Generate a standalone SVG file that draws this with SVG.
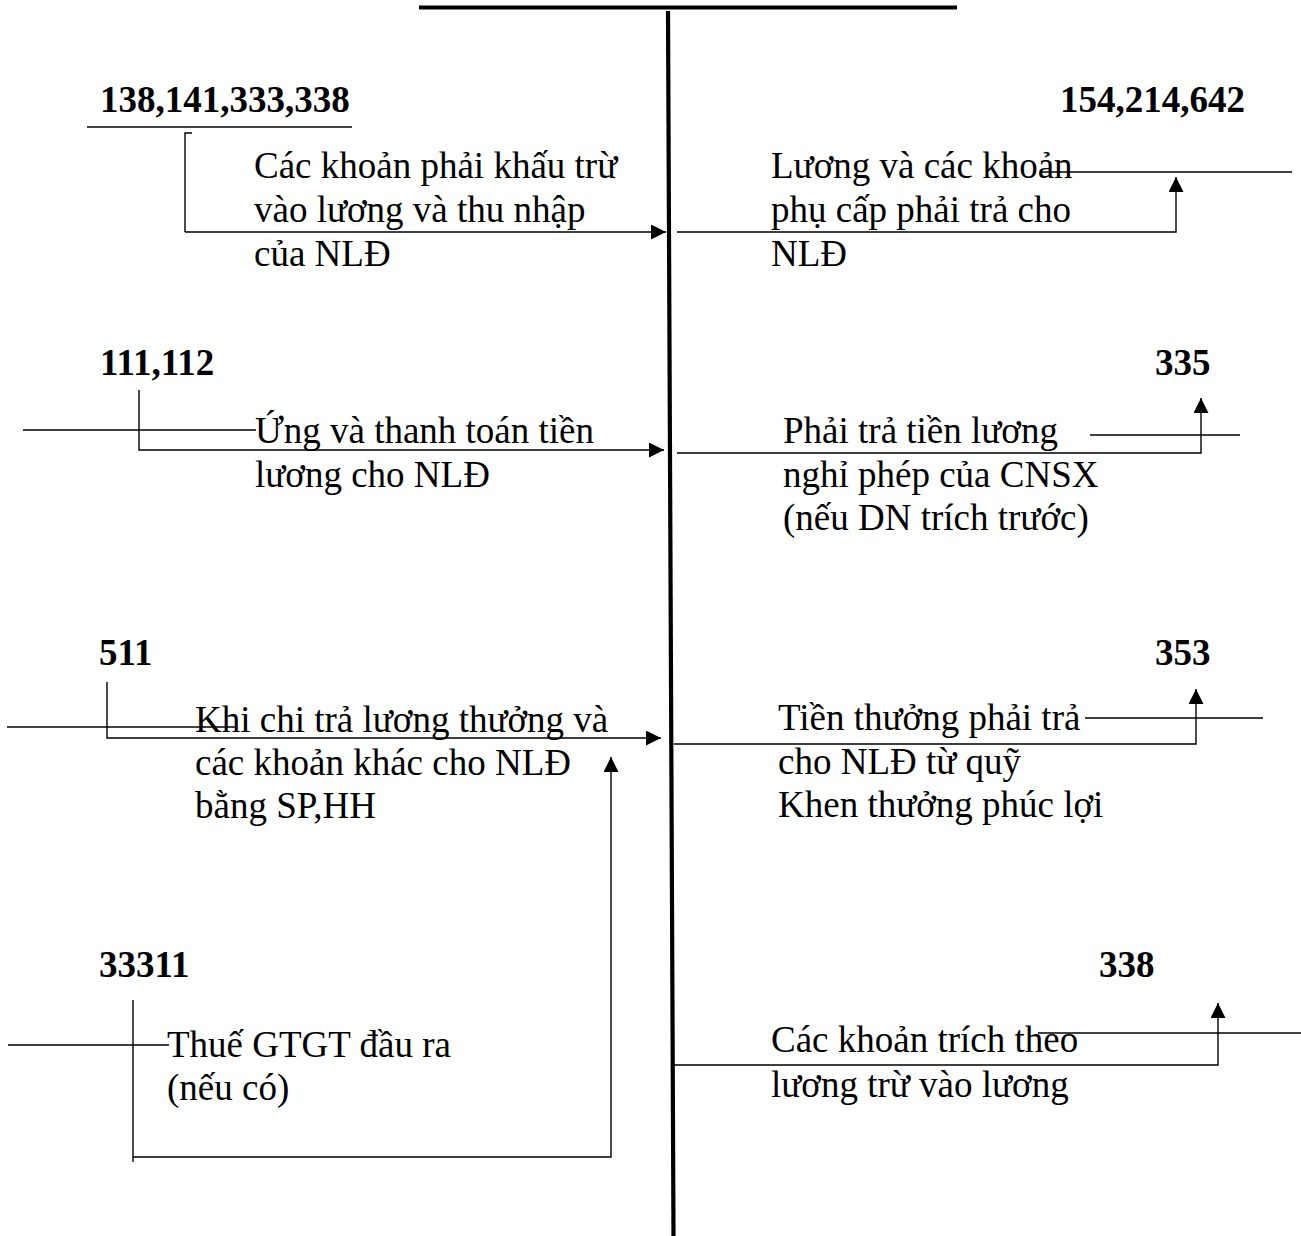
<svg xmlns="http://www.w3.org/2000/svg" width="1301" height="1236" viewBox="0 0 1301 1236">
<style>
.t{font-family:"Liberation Serif","Times New Roman",serif;font-size:37px;fill:#000}
.b{font-family:"Liberation Serif","Times New Roman",serif;font-size:37px;font-weight:bold;fill:#000}
.c{fill:none;stroke:#000;stroke-width:1.4}
.a{marker-end:url(#ah)}
</style>
<defs>
<marker id="ah" markerUnits="userSpaceOnUse" markerWidth="16" markerHeight="16" refX="15" refY="7.5" orient="auto">
<path d="M0,0 L15,7.5 L0,15 z" fill="#000"/>
</marker>
</defs>
<rect width="1301" height="1236" fill="#fff"/>
<g id="taccount">
<line x1="419" y1="7.5" x2="957" y2="7.5" stroke="#000" stroke-width="4"/>
<line x1="668" y1="11" x2="673.5" y2="1236" stroke="#000" stroke-width="4.2"/>
</g>
<g id="connectors">
<path class="c" d="M192,133 H185 V232"/>
<path class="c a" d="M185,232 H666"/>
<path class="c a" d="M677,232 H1176 V177"/>
<path class="c" d="M1040,172 H1292"/>
<path class="c" d="M87,127 H352"/>
<path class="c a" d="M139,390 V450 H664"/>
<path class="c" d="M23,430 H256"/>
<path class="c a" d="M677,453 H1201 V398"/>
<path class="c" d="M1090,435 H1240"/>
<path class="c a" d="M107,682 V738 H661"/>
<path class="c" d="M7,727 H236"/>
<path class="c a" d="M674,744 H1196 V689"/>
<path class="c" d="M1085,718 H1263"/>
<path class="c" d="M133,1000 V1162"/>
<path class="c a" d="M133,1157 H611 V757"/>
<path class="c" d="M8,1045 H169"/>
<path class="c a" d="M674,1065 H1218 V1003"/>
<path class="c" d="M1038,1033 H1301"/>
</g>
<g id="acc-138"><text class="b" x="100" y="112">138,141,333,338</text></g>
<g id="acc-154"><text class="b" x="1245" y="112" text-anchor="end">154,214,642</text></g>
<g id="acc-111"><text class="b" x="100" y="375">111,112</text></g>
<g id="acc-335"><text class="b" x="1155" y="375">335</text></g>
<g id="acc-511"><text class="b" x="99" y="665">511</text></g>
<g id="acc-353"><text class="b" x="1155" y="665">353</text></g>
<g id="acc-33311"><text class="b" x="99" y="977">33311</text></g>
<g id="acc-338"><text class="b" x="1099" y="977">338</text></g>
<g id="lbl-khautru"><text class="t" x="254" y="178">Các khoản phải khấu trừ</text><text class="t" x="254" y="222">vào lương và thu nhập</text><text class="t" x="254" y="266">của NLĐ</text></g>
<g id="lbl-luong"><text class="t" x="771" y="178">Lương và các khoản</text><text class="t" x="771" y="222">phụ cấp phải trả cho</text><text class="t" x="771" y="266">NLĐ</text></g>
<g id="lbl-ung"><text class="t" x="255" y="443">Ứng và thanh toán tiền</text><text class="t" x="255" y="487">lương cho NLĐ</text></g>
<g id="lbl-nghiphep"><text class="t" x="783" y="443">Phải trả tiền lương</text><text class="t" x="783" y="487">nghỉ phép của CNSX</text><text class="t" x="783" y="530">(nếu DN trích trước)</text></g>
<g id="lbl-khichi"><text class="t" x="195" y="732">Khi chi trả lương thưởng và</text><text class="t" x="195" y="775">các khoản khác cho NLĐ</text><text class="t" x="195" y="818">bằng SP,HH</text></g>
<g id="lbl-thuong"><text class="t" x="778" y="730">Tiền thưởng phải trả</text><text class="t" x="778" y="774">cho NLĐ từ quỹ</text><text class="t" x="778" y="817">Khen thưởng phúc lợi</text></g>
<g id="lbl-thue"><text class="t" x="167" y="1057">Thuế GTGT đầu ra</text><text class="t" x="167" y="1100">(nếu có)</text></g>
<g id="lbl-trich"><text class="t" x="771" y="1052">Các khoản trích theo</text><text class="t" x="771" y="1097">lương trừ vào lương</text></g>
</svg>
